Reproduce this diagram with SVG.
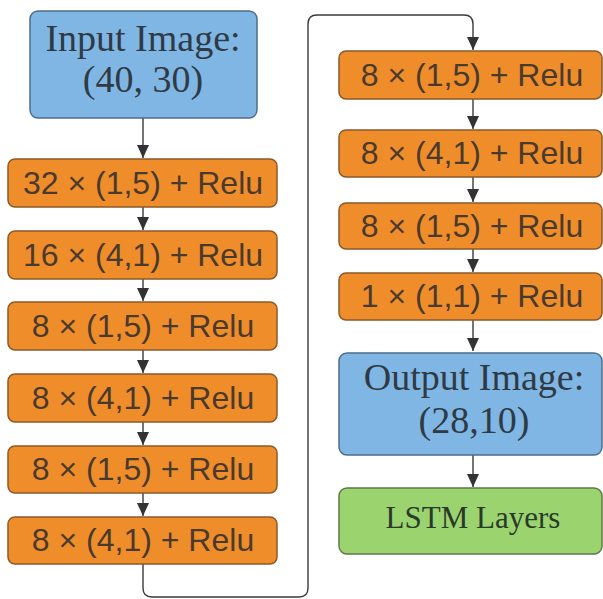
<svg xmlns="http://www.w3.org/2000/svg" width="603" height="599" viewBox="0 0 603 599">
<style>
.blue{fill:#80b6e4;stroke:#4d6e8c;stroke-width:1.5}
.orange{fill:#f08d2b;stroke:#8a5a2a;stroke-width:1.5}
.green{fill:#9bd46f;stroke:#5c7a4a;stroke-width:1.5}
.serif{font-family:"Liberation Serif","Times New Roman",serif;fill:#2f3a45;text-anchor:middle}
.sans{font-family:"Liberation Sans",Arial,sans-serif;fill:#4a3a2e;text-anchor:middle;font-size:32px}
.conn{fill:none;stroke:#3a3a3a;stroke-width:1.4}
</style>
<defs>
<marker id="arr" markerUnits="userSpaceOnUse" markerWidth="14" markerHeight="12" refX="13" refY="6" orient="auto" viewBox="0 0 14 12">
<path d="M0,0 L13,6 L0,12 Z" fill="#333"/>
</marker>
</defs>
<rect width="603" height="599" fill="#ffffff"/>
<g id="connectors">
<path class="conn" d="M143,118 V158" marker-end="url(#arr)"/>
<path class="conn" d="M143,207 V230" marker-end="url(#arr)"/>
<path class="conn" d="M143,279 V301" marker-end="url(#arr)"/>
<path class="conn" d="M143,350 V373" marker-end="url(#arr)"/>
<path class="conn" d="M143,422 V445" marker-end="url(#arr)"/>
<path class="conn" d="M143,493 V516" marker-end="url(#arr)"/>
<path class="conn" d="M143,564 V588 Q143,597 152,597 H299 Q308,597 308,588 V24 Q308,15 317,15 H464 Q473,15 473,24 V50" marker-end="url(#arr)"/>
<path class="conn" d="M473,99 V129" marker-end="url(#arr)"/>
<path class="conn" d="M473,177 V202" marker-end="url(#arr)"/>
<path class="conn" d="M473,249 V272" marker-end="url(#arr)"/>
<path class="conn" d="M473,320 V351" marker-end="url(#arr)"/>
<path class="conn" d="M473,455 V487" marker-end="url(#arr)"/>
</g>
<g id="input">
<rect class="blue" x="30" y="11" width="227" height="107" rx="8"/>
<text class="serif" x="143" y="51" font-size="38">Input Image:</text>
<text class="serif" x="143" y="92" font-size="38">(40, 30)</text>
</g>
<g id="l1"><rect class="orange" x="8" y="159" width="269" height="48" rx="7"/><text class="sans" x="143" y="194">32 × (1,5) + Relu</text></g>
<g id="l2"><rect class="orange" x="8" y="231" width="269" height="48" rx="7"/><text class="sans" x="143" y="266">16 × (4,1) + Relu</text></g>
<g id="l3"><rect class="orange" x="8" y="302" width="269" height="48" rx="7"/><text class="sans" x="143" y="337">8 × (1,5) + Relu</text></g>
<g id="l4"><rect class="orange" x="8" y="374" width="269" height="48" rx="7"/><text class="sans" x="143" y="409">8 × (4,1) + Relu</text></g>
<g id="l5"><rect class="orange" x="8" y="446" width="269" height="47" rx="7"/><text class="sans" x="143" y="480">8 × (1,5) + Relu</text></g>
<g id="l6"><rect class="orange" x="8" y="517" width="269" height="47" rx="7"/><text class="sans" x="143" y="551">8 × (4,1) + Relu</text></g>
<g id="r1"><rect class="orange" x="339" y="51" width="263" height="48" rx="7"/><text class="sans" x="472" y="86">8 × (1,5) + Relu</text></g>
<g id="r2"><rect class="orange" x="339" y="130" width="263" height="47" rx="7"/><text class="sans" x="472" y="164">8 × (4,1) + Relu</text></g>
<g id="r3"><rect class="orange" x="339" y="203" width="263" height="46" rx="7"/><text class="sans" x="472" y="237">8 × (1,5) + Relu</text></g>
<g id="r4"><rect class="orange" x="339" y="273" width="263" height="47" rx="7"/><text class="sans" x="472" y="307">1 × (1,1) + Relu</text></g>
<g id="output">
<rect class="blue" x="339" y="353" width="263" height="102" rx="8"/>
<text class="serif" x="474" y="390" font-size="38">Output Image:</text>
<text class="serif" x="474" y="433" font-size="38">(28,10)</text>
</g>
<g id="lstm">
<rect class="green" x="339" y="488" width="263" height="66" rx="8"/>
<text class="serif" x="473" y="528" font-size="31" fill="#2a3a2a" style="fill:#2a3a2a">LSTM Layers</text>
</g>
</svg>
